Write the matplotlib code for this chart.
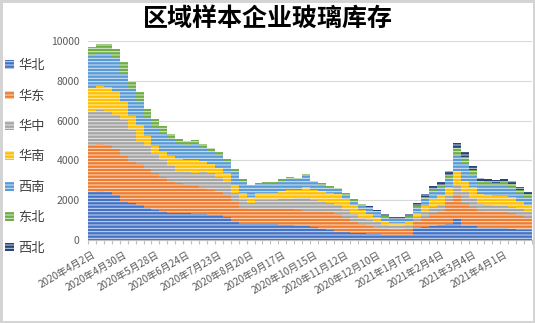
import numpy as np
import matplotlib
matplotlib.use("Agg")
import matplotlib.pyplot as plt

plt.rcParams["font.family"] = ["Noto Sans CJK SC", "DejaVu Sans"]
plt.rcParams["hatch.linewidth"] = 0.7

# weekly dates, one bar per week (2020-04-02 .. 2021-04-22)
dates = ["2020年4月2日", "2020年4月9日", "2020年4月16日", "2020年4月23日",
         "2020年4月30日", "2020年5月7日", "2020年5月14日", "2020年5月21日",
         "2020年5月28日", "2020年6月4日", "2020年6月11日", "2020年6月18日",
         "2020年6月24日", "2020年7月2日", "2020年7月9日", "2020年7月16日",
         "2020年7月23日", "2020年7月30日", "2020年8月6日", "2020年8月13日",
         "2020年8月20日", "2020年8月27日", "2020年9月3日", "2020年9月10日",
         "2020年9月17日", "2020年9月24日", "2020年10月1日", "2020年10月8日",
         "2020年10月15日", "2020年10月22日", "2020年10月29日", "2020年11月5日",
         "2020年11月12日", "2020年11月19日", "2020年11月26日", "2020年12月3日",
         "2020年12月10日", "2020年12月17日", "2020年12月24日", "2020年12月31日",
         "2021年1月7日", "2021年1月14日", "2021年1月21日", "2021年1月28日",
         "2021年2月4日", "2021年2月11日", "2021年2月18日", "2021年2月25日",
         "2021年3月4日", "2021年3月11日", "2021年3月18日", "2021年3月25日",
         "2021年4月1日", "2021年4月8日", "2021年4月15日", "2021年4月22日"]

huabei = [2420, 2470, 2420, 2250, 1950, 1850, 1780, 1620, 1520, 1450, 1380, 1350,
          1370, 1320, 1300, 1280, 1250, 1150, 950, 820, 800, 820, 800, 780,
          760, 740, 720, 700, 650, 560, 500, 420, 380, 350, 330, 300,
          280, 250, 230, 230, 260, 600, 650, 700, 750, 800, 1050, 700,
          680, 600, 600, 580, 580, 560, 520, 500]
huadong = [2330, 2330, 2340, 2310, 2250, 2100, 2040, 1930, 1830, 1700, 1570, 1500,
           1410, 1420, 1320, 1240, 1170, 1100, 1000, 780, 760, 730, 740, 760,
           780, 800, 800, 780, 820, 890, 900, 880, 770, 600, 470, 400,
           340, 300, 290, 290, 300, 350, 500, 650, 700, 1100, 1200, 1150,
           970, 850, 820, 820, 820, 790, 730, 650]
huazhong = [1700, 1730, 1740, 1720, 1830, 1580, 1160, 1170, 970, 870, 770, 600,
            620, 640, 800, 860, 730, 650, 430, 410, 280, 450, 460, 470,
            500, 520, 570, 620, 540, 500, 450, 450, 350, 350, 300, 300,
            280, 210, 180, 180, 200, 200, 250, 300, 300, 300, 530, 550,
            450, 350, 330, 320, 300, 300, 300, 300]
huanan = [1170, 1210, 1200, 1170, 920, 700, 800, 510, 400, 420, 500, 600,
          620, 640, 530, 420, 450, 450, 400, 340, 340, 340, 340, 350,
          440, 450, 420, 580, 500, 530, 530, 550, 550, 450, 400, 300,
          250, 170, 150, 150, 160, 200, 300, 400, 500, 450, 670, 550,
          550, 500, 500, 480, 500, 500, 350, 300]
xinan = [1650, 1610, 1650, 1680, 1420, 1310, 1200, 970, 980, 890, 840, 810,
         760, 780, 730, 680, 680, 590, 670, 620, 510, 460, 490, 490,
         480, 550, 500, 540, 390, 290, 260, 220, 220, 220, 240, 320,
         250, 210, 150, 150, 200, 250, 350, 350, 370, 400, 830, 900,
         600, 450, 470, 500, 530, 490, 480, 400]
dongbei = [410, 480, 480, 450, 560, 420, 480, 380, 360, 400, 270, 200,
           210, 225, 140, 125, 125, 110, 100, 80, 80, 80, 80, 80,
           90, 90, 90, 95, 80, 80, 75, 75, 75, 75, 70, 60,
           60, 60, 60, 60, 70, 100, 130, 160, 160, 230, 320, 330,
           270, 200, 180, 170, 180, 170, 150, 140]
xibei = [0, 0, 0, 0, 0, 0, 0, 0, 0, 0, 0, 0,
         0, 0, 0, 0, 0, 0, 0, 0, 0, 0, 0, 0,
         0, 0, 0, 0, 0, 0, 0, 0, 0, 0, 0, 30,
         50, 90, 80, 80, 100, 140, 130, 155, 150, 205, 290, 240,
         200, 150, 150, 145, 155, 155, 150, 140]

regions = ["华北", "华东", "华中", "华南", "西南", "东北", "西北"]
series = [huabei, huadong, huazhong, huanan, xinan, dongbei, xibei]
colors = ["#4472C4", "#ED7D31", "#A5A5A5", "#FFC000", "#5B9BD5", "#70AD47", "#264478"]

fig = plt.figure(figsize=(5.35, 3.23), dpi=100)
fig.patch.set_facecolor("white")
fig.patch.set_edgecolor("#d4d4d4")
fig.patch.set_linewidth(3.5)

ax = fig.add_axes([0.1645, 0.257, 0.83, 0.616])
x = np.arange(len(dates))
bottom = np.zeros(len(dates))
handles = []
for name, vals, col in zip(regions, series, colors):
    vals = np.array(vals, dtype=float)
    b = ax.bar(x, vals, width=1.0, bottom=bottom, color=col,
               edgecolor=(1, 1, 1, 0.75), linewidth=0, hatch="-----",
               label=name, zorder=2)
    handles.append(b)
    bottom += vals

ax.set_xlim(-0.5, len(dates) - 0.5)
ax.set_ylim(0, 10000)
ax.set_yticks(np.arange(0, 10001, 2000))
ax.yaxis.grid(True, color="#d9d9d9", lw=0.8, zorder=0)
ax.tick_params(axis="y", length=0, labelsize=7.5, labelcolor="#595959", pad=6)

ticks = x[::4]
ax.set_xticks(ticks)
ax.set_xticklabels([dates[i] for i in ticks], rotation=30, ha="right",
                   rotation_mode="anchor", fontsize=7.2, color="#595959")
ax.tick_params(axis="x", length=0, pad=7)
ax.set_xticks(np.arange(-0.5, len(dates), 1), minor=True)
ax.tick_params(axis="x", which="minor", length=3, color="#bfbfbf", width=0.8)

for s in ["top", "right", "left"]:
    ax.spines[s].set_visible(False)
ax.spines["bottom"].set_color("#bfbfbf")
ax.spines["bottom"].set_linewidth(0.8)

fig.text(0.5, 0.942, "区域样本企业玻璃库存", ha="center", va="center",
         fontsize=18, fontweight="bold", color="black")

fig.legend(handles, regions, loc="upper left", bbox_to_anchor=(0.005, 0.825),
           frameon=False, fontsize=9.5, handlelength=0.65, handleheight=0.65,
           handletextpad=0.35, labelspacing=1.32, borderaxespad=0, borderpad=0.2,
           labelcolor="#404040")

fig.savefig("out.png", dpi=100, facecolor=fig.get_facecolor(),
            edgecolor=fig.get_edgecolor())
